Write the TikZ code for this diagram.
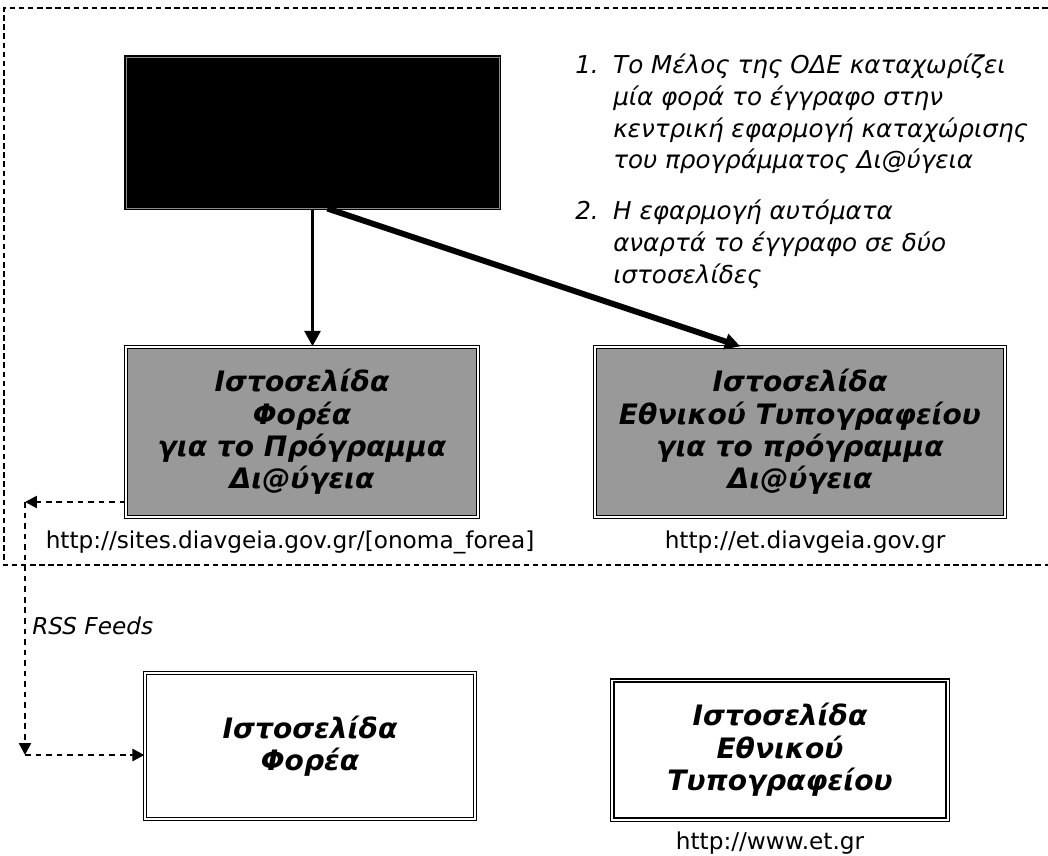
\documentclass[tikz,border=0pt]{standalone}
\usepackage{fontspec}
\setmainfont{DejaVu Sans}
\usetikzlibrary{arrows.meta, positioning, calc}

\begin{document}
\begin{tikzpicture}[x=0.025cm, y=-0.025cm,
    titlefont/.style={font=\fontsize{20}{23}\selectfont\bfseries\itshape},
    blackbox/.style={draw=black, line width=0.8pt, double=black!45, double distance=0.6pt, fill=black, minimum width=9.325cm, minimum height=3.775cm},
    webbox/.style={titlefont, draw=black, line width=0.8pt, double=white, double distance=1.4pt, fill=black!40, align=center, minimum height=4.25cm},
    sitebox/.style={titlefont, draw=black, line width=0.8pt, double=white, double distance=1.4pt, fill=white, align=center},
    urltext/.style={font=\fontsize{16.5}{19}\selectfont},
    steptext/.style={font=\fontsize{17.5}{22.5}\selectfont\itshape, align=left, anchor=north west, inner sep=0pt},
    mainarrow/.style={-{Triangle[length=11pt,width=11pt]}, line width=2.8pt},
    feedarrow/.style={dash pattern=on 4pt off 3.5pt, line width=1.8pt, -{Triangle[length=8.5pt,width=8.5pt]}},
    frame/.style={dash pattern=on 4pt off 2.5pt, line width=0.9pt}]
    \useasboundingbox (0,0) rectangle (1048,856);

    % dashed frame, open at the right
    \draw[frame] (1048,8) -- (4,8) -- (4,565) -- (1048,565);

    \node[blackbox] (ode) at (312.5,132.5) {};
    \node[steptext] (step1) at (575,54) {\makebox[27pt][l]{1.}Το Μέλος της ΟΔΕ καταχωρίζει\\
        \hspace*{27pt}μία φορά το έγγραφο στην\\
        \hspace*{27pt}κεντρική εφαρμογή καταχώρισης\\
        \hspace*{27pt}του προγράμματος Δι@ύγεια};
    \node[steptext] (step2) at (575,200) {\makebox[27pt][l]{2.}Η εφαρμογή αυτόματα\\
        \hspace*{27pt}αναρτά το έγγραφο σε δύο\\
        \hspace*{27pt}ιστοσελίδες};

    \node[webbox, minimum width=8.8cm] (foreasweb) at (302,432) {Ιστοσελίδα\\Φορέα\\για το Πρόγραμμα\\Δι@ύγεια};
    \node[webbox, minimum width=10.25cm] (etweb) at (800,432) {Ιστοσελίδα\\Εθνικού Τυπογραφείου\\για το πρόγραμμα\\Δι@ύγεια};
    \node[urltext] (foreasurl) at (290,542) {http://sites.diavgeia.gov.gr/[onoma\_forea]};
    \node[urltext] (eturl) at (805,542) {http://et.diavgeia.gov.gr};

    \node[sitebox, minimum width=8.25cm, minimum height=3.65cm] (foreas) at (310,746) {Ιστοσελίδα\\Φορέα};
    \node[sitebox, minimum width=8.375cm, minimum height=3.475cm] (et) at (780,750) {Ιστοσελίδα\\Εθνικού\\Τυπογραφείου};
    \node[urltext, anchor=base, inner sep=0pt] (etgr) at (770,849) {http://www.et.gr};

    \draw[mainarrow] (ode.south) -- (ode.south |- foreasweb.north);
    \draw[mainarrow, line width=4.2pt] ($(ode.south west)!0.54!(ode.south east)$) -- ($(etweb.north west)!0.355!(etweb.north east)$);

    % RSS feeds
    \coordinate (feedtop) at (25,502);
    \coordinate (feedbottom) at (25,755);
    \draw[feedarrow] (feedtop -| foreasweb.west) -- (feedtop);
    \draw[feedarrow] (feedtop) -- (feedbottom);
    \draw[feedarrow] (feedbottom) -- (feedbottom -| foreas.west);
    \node[font=\fontsize{16.5}{19}\selectfont\itshape, anchor=west, inner sep=0pt] (rss) at (32,626) {RSS Feeds};
\end{tikzpicture}
\end{document}
